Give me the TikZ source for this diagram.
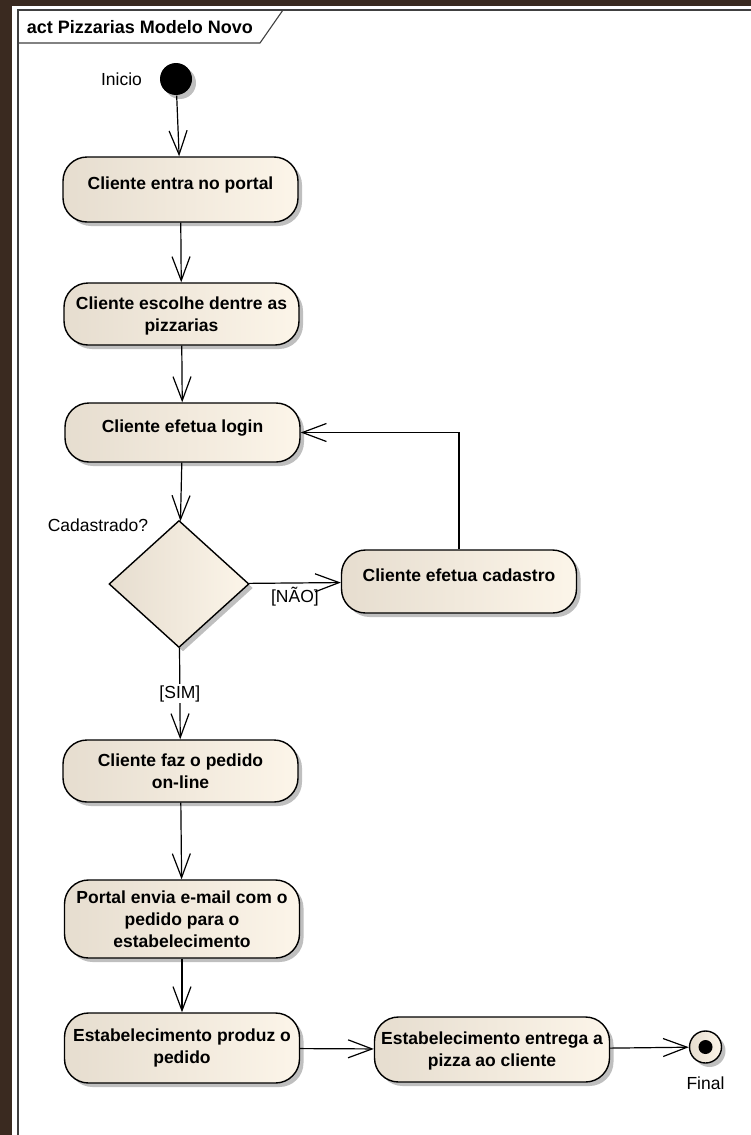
\documentclass[tikz,border=0pt]{standalone}
\usepackage{fontspec}
\setmainfont{Liberation Sans}
\usetikzlibrary{arrows.meta,positioning,shapes.geometric,shadows}
\definecolor{woodbrown}{RGB}{58,42,32}
\definecolor{actleft}{RGB}{230,221,207}
\definecolor{actright}{RGB}{252,245,233}
\definecolor{framegray}{RGB}{64,64,64}

\begin{document}
\begin{tikzpicture}[x=1pt,y=-1pt,>={Straight Barb[length=24pt,width=18pt]},
  line width=1.2pt,
  act shadow/.style={drop shadow={shadow xshift=4pt,shadow yshift=-4pt,fill=black,opacity=.25}},
  action node/.style={rectangle,rounded corners=24pt,draw,line width=1.4pt,left color=actleft,right color=actright,act shadow,
    minimum width=235pt,minimum height=62pt,align=center,inner sep=3pt,font=\bfseries\fontsize{17.5}{22}\selectfont},
  one line/.style={text height=12pt,text depth=12pt},
  multi line/.style={text depth=-3pt},
  choice node/.style={diamond,draw,line width=1.4pt,left color=actleft,right color=actright,act shadow,
    minimum width=140pt,minimum height=127pt,inner sep=0pt},
  start node/.style={circle,fill=black,act shadow,minimum size=32pt,inner sep=0pt},
  end node/.style={circle,draw,line width=1.4pt,left color=actleft,right color=actright,act shadow,minimum size=32pt,inner sep=0pt,
    path picture={\fill[black] (path picture bounding box.center) circle (7pt);}},
  plain text/.style={font=\fontsize{17.5}{21}\selectfont}]

  % background and frame
  \fill[woodbrown] (0,0) rectangle (751,1135);
  \fill[white] (12,6) rectangle (751,1135);
  \useasboundingbox (0,0) rectangle (751,1135);
  \draw[framegray,line width=1.3pt] (18,1135) -- (18,10) -- (751,10);
  \draw[framegray,line width=1.1pt] (18,43) -- (260,43) -- (283,10);
  \node[anchor=west,font=\bfseries\fontsize{18}{21}\selectfont] (title) at (23,27) {act Pizzarias Modelo Novo};

  \node[start node,label={[plain text,label distance=13.5pt]left:Inicio}] (0) at (176,79) {};
  \node[action node,one line,minimum height=65pt,node distance=110.5pt,below of=0,xshift=4.5pt] (1) {Cliente entra no portal};
  \node[action node,multi line,node distance=124.5pt,below of=1,xshift=1pt] (2) {Cliente escolhe dentre as\\pizzarias};
  \node[action node,one line,minimum height=59pt,node distance=118.5pt,below of=2,xshift=1pt] (3) {Cliente efetua login};
  \node[choice node,node distance=151.5pt,below of=3,xshift=-3.5pt,
    label={[plain text,anchor=east,label distance=0pt,xshift=-27pt,yshift=-5pt]north:Cadastrado?}] (4) {};
  \node[action node,one line,minimum height=63pt,node distance=280pt,right of=4,yshift=2.5pt] (5) {Cliente efetua cadastro};
  \node[action node,multi line,node distance=187pt,below of=4,xshift=1.5pt] (6) {Cliente faz o pedido\\on-line};
  \node[action node,multi line,minimum height=78pt,node distance=148pt,below of=6,xshift=1.5pt] (7) {Portal envia e-mail com o\\pedido para o\\estabelecimento};
  \node[action node,minimum height=70pt,node distance=129pt,below of=7] (8) {Estabelecimento produz o\\pedido};
  \node[action node,multi line,minimum height=65pt,node distance=310pt,right of=8,yshift=-1.5pt] (9) {Estabelecimento entrega a\\pizza ao cliente};
  \node[end node,node distance=213.5pt,right of=9,yshift=2.5pt,label={[plain text,label distance=9pt]below:Final}] (10) {};

  \path[->]
    (0) edge (1)
    (1) edge (2)
    (2) edge (3)
    (3) edge (4)
    (4) edge node[plain text,below] {[NÃO]} (5)
        edge node[plain text,fill=white,inner sep=1pt] {[SIM]} (6)
    (6) edge (7)
    (7) edge (8)
    (8) edge (9)
    (9) edge (10);
  \draw[->] (5) |- (3);
\end{tikzpicture}
\end{document}
